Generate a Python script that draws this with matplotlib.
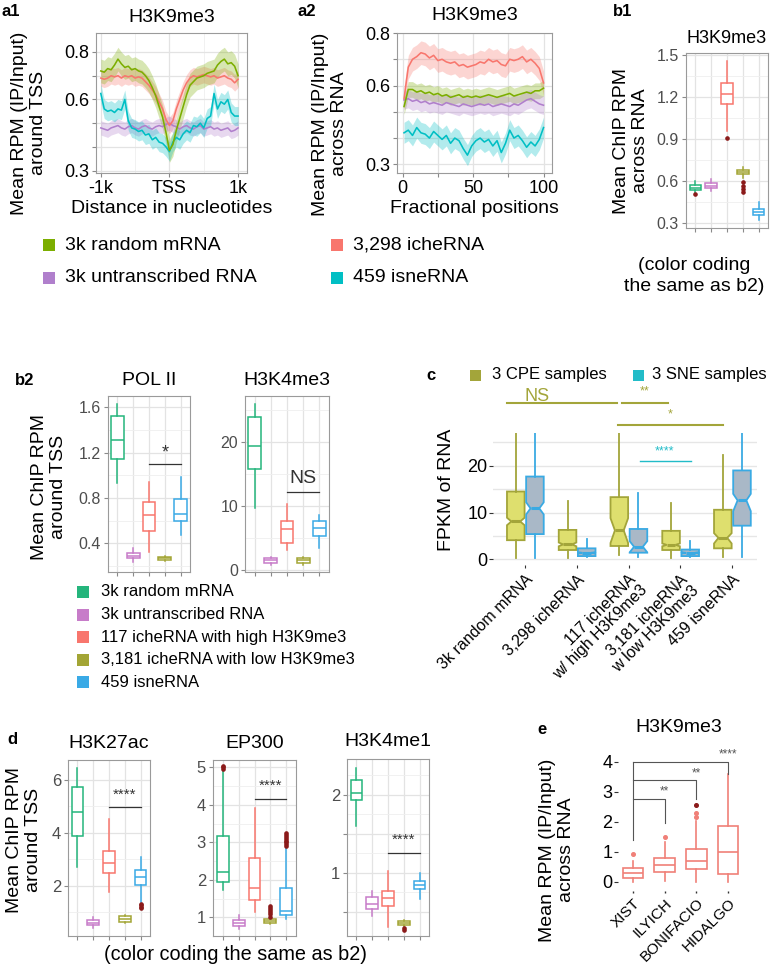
import matplotlib
matplotlib.use("Agg")
import matplotlib.pyplot as plt
from matplotlib.patches import Rectangle

plt.rcParams['font.family'] = ['Liberation Sans', 'DejaVu Sans']

W, H = 772, 965

#---------------------------------------------------------------------------------
# a1 : H3K9me3 around TSS
a1_pos = [-1000, -950, -900, -850, -800, -750, -700, -650, -600, -550, -500, -450, -400, -350,
          -300, -250, -200, -150, -100, -50, 0, 50, 100, 150, 200, 250, 300, 350, 400, 450,
          500, 550, 600, 650, 700, 750, 800, 850, 900, 950, 1000]
a1_green = [0.72, 0.715, 0.73, 0.725, 0.745, 0.77, 0.75, 0.735, 0.74, 0.725, 0.73, 0.72, 0.715, 0.70,
            0.68, 0.65, 0.615, 0.57, 0.525, 0.46, 0.385, 0.41, 0.47, 0.52, 0.57, 0.62, 0.66, 0.675,
            0.69, 0.695, 0.70, 0.71, 0.715, 0.72, 0.745, 0.76, 0.77, 0.75, 0.755, 0.74, 0.70]
a1_red = [0.69, 0.685, 0.69, 0.70, 0.695, 0.70, 0.69, 0.70, 0.695, 0.70, 0.69, 0.695, 0.69, 0.675,
          0.66, 0.64, 0.62, 0.59, 0.56, 0.515, 0.49, 0.51, 0.56, 0.60, 0.64, 0.67, 0.69, 0.70,
          0.695, 0.70, 0.705, 0.70, 0.695, 0.70, 0.69, 0.695, 0.70, 0.69, 0.685, 0.67, 0.685]
a1_cyan = [0.625, 0.56, 0.55, 0.555, 0.545, 0.56, 0.555, 0.60, 0.51, 0.48, 0.475, 0.465, 0.47, 0.45,
           0.455, 0.43, 0.44, 0.42, 0.415, 0.40, 0.38, 0.42, 0.44, 0.43, 0.455, 0.47, 0.46, 0.49,
           0.485, 0.50, 0.48, 0.52, 0.53, 0.625, 0.56, 0.59, 0.58, 0.60, 0.545, 0.53, 0.53]
a1_purple = [0.48, 0.475, 0.47, 0.48, 0.485, 0.49, 0.48, 0.475, 0.485, 0.49, 0.48, 0.475, 0.485, 0.49,
             0.48, 0.475, 0.485, 0.49, 0.485, 0.495, 0.50, 0.49, 0.485, 0.475, 0.485, 0.49, 0.48,
             0.475, 0.485, 0.49, 0.475, 0.48, 0.485, 0.475, 0.48, 0.47, 0.475, 0.48, 0.465, 0.47, 0.48]
a1_band = [0.05, 0.035, 0.04, 0.03]   # green, red, cyan, purple

# a2 : H3K9me3 across RNA
a2_pos = [1, 4, 7, 10, 13, 16, 19, 22, 25, 28, 31, 34, 37, 40, 43, 46, 49, 52, 55, 58, 61, 64,
          67, 70, 73, 76, 79, 82, 85, 88, 91, 94, 97, 100]
a2_red = [0.55, 0.67, 0.70, 0.71, 0.725, 0.72, 0.705, 0.715, 0.695, 0.70, 0.69, 0.685, 0.69, 0.675,
          0.68, 0.67, 0.675, 0.68, 0.69, 0.685, 0.70, 0.69, 0.695, 0.68, 0.675, 0.70, 0.695, 0.70,
          0.71, 0.69, 0.70, 0.685, 0.665, 0.61]
a2_green = [0.52, 0.585, 0.585, 0.575, 0.58, 0.57, 0.575, 0.565, 0.57, 0.56, 0.565, 0.555, 0.56, 0.565,
            0.555, 0.56, 0.555, 0.56, 0.555, 0.56, 0.565, 0.56, 0.555, 0.56, 0.565, 0.57, 0.56, 0.565,
            0.57, 0.575, 0.57, 0.58, 0.58, 0.59]
a2_purple = [0.545, 0.55, 0.54, 0.545, 0.535, 0.54, 0.53, 0.535, 0.53, 0.525, 0.535, 0.53, 0.525, 0.52,
             0.53, 0.525, 0.52, 0.525, 0.53, 0.525, 0.53, 0.52, 0.525, 0.53, 0.525, 0.52, 0.53, 0.525,
             0.535, 0.545, 0.55, 0.54, 0.53, 0.525]
a2_cyan = [0.42, 0.43, 0.41, 0.44, 0.42, 0.415, 0.40, 0.425, 0.41, 0.395, 0.41, 0.38, 0.40, 0.39,
           0.36, 0.335, 0.37, 0.39, 0.40, 0.385, 0.395, 0.37, 0.39, 0.345, 0.38, 0.43, 0.40, 0.41,
           0.39, 0.365, 0.385, 0.37, 0.395, 0.44]
a2_band = [0.03, 0.045, 0.04, 0.035]  # green, red, cyan, purple

a_labels = ["3k random mRNA", "3k untranscribed RNA", "3,298 icheRNA", "459 isneRNA"]

#---------------------------------------------------------------------------------
# b1 / b2 / d : 5 groups
b_labels = ["3k random mRNA", "3k untranscribed RNA", "117 icheRNA with high H3K9me3",
            "3,181 icheRNA with low H3K9me3", "459 isneRNA"]

b1_med = [0.55, 0.565, 1.225, 0.665, 0.38]
b1_q1 = [0.536, 0.548, 1.15, 0.65, 0.355]
b1_q3 = [0.57, 0.588, 1.30, 0.68, 0.40]
b1_lo = [0.51, 0.53, 0.96, 0.62, 0.32]
b1_hi = [0.60, 0.615, 1.46, 0.70, 0.45]
b1_out = [[0.505], [], [0.905], [0.52, 0.54, 0.565, 0.59], []]

pol_med = [1.31, 0.29, 0.65, 0.27, 0.66]
pol_q1 = [1.14, 0.265, 0.506, 0.255, 0.60]
pol_q3 = [1.52, 0.31, 0.76, 0.28, 0.79]
pol_lo = [0.93, 0.23, 0.32, 0.24, 0.47]
pol_hi = [1.63, 0.36, 0.94, 0.29, 0.98]

k4_med = [19.4, 1.5, 6.45, 1.5, 6.5]
k4_q1 = [15.8, 1.1, 4.2, 1.1, 5.3]
k4_q3 = [23.9, 1.9, 7.7, 1.9, 7.7]
k4_lo = [9.7, 0.8, 3.2, 0.8, 3.4]
k4_hi = [25.9, 2.1, 10.3, 2.1, 8.6]

k27_med = [4.77, 0.6, 2.88, 0.76, 2.35]
k27_q1 = [3.89, 0.53, 2.49, 0.65, 2.04]
k27_q3 = [5.75, 0.72, 3.33, 0.87, 2.6]
k27_lo = [2.72, 0.40, 1.78, 0.60, 1.41]
k27_hi = [6.44, 0.84, 4.52, 0.92, 3.1]
k27_out = [[], [], [], [], [1.17, 1.22, 1.27, 1.32]]

ep_med = [2.22, 0.84, 1.77, 0.9, 1.17]
ep_q1 = [1.95, 0.76, 1.46, 0.85, 1.05]
ep_q3 = [3.16, 0.92, 2.58, 0.95, 1.79]
ep_lo = [1.73, 0.70, 1.14, 0.82, 0.96]
ep_hi = [4.9, 1.05, 3.92, 0.98, 2.84]
ep_out = [[4.95, 5.0, 5.05], [], [], [1.02, 1.08, 1.14, 1.2, 1.26, 1.3],
          [2.9, 2.95, 3.0, 3.05, 3.1, 3.15, 3.2, 3.25]]

k1_med = [2.02, 0.60, 0.68, 0.355, 0.84]
k1_q1 = [1.93, 0.53, 0.57, 0.33, 0.79]
k1_q3 = [2.19, 0.69, 0.77, 0.38, 0.89]
k1_lo = [1.60, 0.45, 0.31, 0.31, 0.66]
k1_hi = [2.34, 0.77, 1.03, 0.39, 1.00]
k1_out = [[], [], [], [0.27, 0.29], []]

#---------------------------------------------------------------------------------
# c : FPKM, CPE vs SNE
c_labels = ["3k random mRNA", "3,298 icheRNA", "117 icheRNA\nw/ high H3K9me3",
            "3,181 icheRNA\nw low H3K9me3", "459 isneRNA"]
cpe_med = [8.1, 3.2, 6.2, 3.1, 4.6]
cpe_q1 = [4.1, 2.0, 2.86, 2.0, 2.36]
cpe_q3 = [14.5, 6.3, 13.3, 6.1, 10.6]
cpe_lo = [0.3, 0.2, 0.9, 0.2, 0.5]
cpe_hi = [28.7, 12.5, 28.0, 12.1, 22.4]
cpe_cilo = [7.3, 2.8, 3.5, 2.8, 3.4]
cpe_cihi = [8.9, 3.6, 8.8, 3.4, 5.6]
sne_med = [10.9, 1.4, 2.7, 1.4, 12.6]
sne_q1 = [5.4, 0.7, 1.43, 0.7, 7.2]
sne_q3 = [17.7, 2.36, 6.5, 2.1, 19.0]
sne_lo = [0.3, 0.5, 0.55, 0.5, 0.55]
sne_hi = [28.6, 4.4, 14.1, 3.9, 28.6]
sne_cilo = [9.6, 1.25, 1.5, 1.25, 10.3]
sne_cihi = [12.2, 1.55, 3.9, 1.55, 14.0]

#---------------------------------------------------------------------------------
# e : H3K9me3 across RNA of four lncRNAs
e_labels = ["XIST", "ILYICH", "BONIFACIO", "HIDALGO"]
e_med = [0.31, 0.57, 0.71, 0.98]
e_q1 = [0.13, 0.34, 0.42, 0.27]
e_q3 = [0.45, 0.79, 1.09, 1.87]
e_lo = [0.0, 0.03, 0.0, 0.0]
e_hi = [0.68, 1.34, 2.01, 3.59]
e_out = [[0.93], [1.48], [2.15, 2.3], []]
e_out_dark = [[], [], [2.57], []]

#---------------------------------------------------------------------------------
a_cols = ['#7CAE00', '#F8766D', '#00BFC4', '#B07FCC']   # green, red, cyan, purple
b_cols = ['#25B57C', '#C77CC9', '#F8766D', '#A3A535', '#3AAAE6']
dark_red = '#8B1A1A'
olive = '#A3A53A'
cyan = '#22BCC8'

fig = plt.figure(figsize=(W / 100, H / 100), dpi=100)


def rect(x0, y0, x1, y1):
    return [x0 / W, 1 - y1 / H, (x1 - x0) / W, (y1 - y0) / H]


def ftext(x, y, s, **kw):
    kw.setdefault('ha', 'center')
    kw.setdefault('va', 'center')
    fig.text(x / W, 1 - y / H, s, **kw)


def square(x, y, c, size=11):
    fig.add_artist(Rectangle((x / W, 1 - (y + size / 2) / H), size / W, size / H,
                             transform=fig.transFigure, facecolor=c, edgecolor='none'))


def bw(ax, labelcolor='#4d4d4d', size=11.5):
    ax.set_facecolor('white')
    for s in ax.spines.values():
        s.set_color('#9a9a9a')
        s.set_linewidth(0.8)
    ax.grid(True, which='major', color='#e3e3e3', lw=0.9)
    ax.grid(True, which='minor', color='#efefef', lw=0.6)
    ax.set_axisbelow(True)
    ax.tick_params(which='major', length=3, width=0.8, color='#8a8a8a',
                   labelcolor=labelcolor, labelsize=size, pad=2)
    ax.tick_params(which='minor', length=0)


def boxes(ax, med, q1, q3, lo, hi, out, cols, width=0.75, lw=1.1, fl=dark_red):
    for i in range(len(med)):
        st = dict(med=med[i], q1=q1[i], q3=q3[i], whislo=lo[i], whishi=hi[i], fliers=out[i])
        ax.bxp([st], positions=[i + 1], widths=width, showcaps=False, patch_artist=True,
               manage_ticks=False,
               boxprops=dict(facecolor='white', edgecolor=cols[i], linewidth=lw),
               medianprops=dict(color=cols[i], linewidth=lw),
               whiskerprops=dict(color=cols[i], linewidth=lw),
               flierprops=dict(marker='o', markersize=2.3, markerfacecolor=fl,
                               markeredgecolor=fl))


def sig(ax, x0, x1, y, txt, ty, color='#333333', size=13, lw=0.9, tx=None):
    ax.plot([x0, x1], [y, y], color=color, lw=lw, clip_on=False)
    if tx is None:
        tx = (x0 + x1) / 2
    ax.text(tx, ty, txt, color=color, fontsize=size, ha='center', va='center', clip_on=False)


def five_box_axes(ax, ylim, yticks, ylabels, minors, size=11.5):
    bw(ax, size=size)
    ax.set_xlim(0.4, 5.6)
    ax.set_ylim(*ylim)
    ax.set_xticks([1, 2, 3, 4, 5])
    ax.set_xticklabels([])
    ax.set_yticks(yticks)
    ax.set_yticklabels(ylabels)
    ax.set_yticks(minors, minor=True)


#---------------------------------------------------------------------------------
# a1
ax = fig.add_axes(rect(96, 33, 247, 173))
bw(ax, labelcolor='black', size=13)
for vals, col, b in zip([a1_red, a1_green, a1_purple, a1_cyan],
                        [a_cols[1], a_cols[0], a_cols[3], a_cols[2]],
                        [a1_band[1], a1_band[0], a1_band[3], a1_band[2]]):
    ax.fill_between(a1_pos, [v - b for v in vals], [v + b for v in vals], color=col,
                    alpha=0.3, lw=0)
for vals, col in zip([a1_purple, a1_cyan, a1_red, a1_green],
                     [a_cols[3], a_cols[2], a_cols[1], a_cols[0]]):
    ax.plot(a1_pos, vals, color=col, lw=1.15)
ax.set_xlim(-1070, 1130)
ax.set_ylim(0.29, 0.88)
ax.set_xticks([-1000, 0, 1000])
ax.set_xticklabels(['-1k', 'TSS', '1k'])
ax.set_xticks([-500, 500], minor=True)
ax.set_yticks([0.3, 0.4, 0.5, 0.6, 0.7, 0.8])
ax.set_yticklabels(['0.3', '', '', '0.6', '', '0.8'])
ax.set_title("H3K9me3", fontsize=14, pad=8)
ax.set_xlabel("Distance in nucleotides", fontsize=14, labelpad=2)
ftext(29, 123, "Mean RPM (IP/Input)\naround TSS", rotation=90, fontsize=14, linespacing=1.1)
ftext(2, 12, "a1", fontsize=12, fontweight='bold', ha='left')

# a2
ax = fig.add_axes(rect(397, 33, 552, 173))
bw(ax, labelcolor='black', size=13)
for vals, col, b in zip([a2_red, a2_green, a2_purple, a2_cyan],
                        [a_cols[1], a_cols[0], a_cols[3], a_cols[2]],
                        [a2_band[1], a2_band[0], a2_band[3], a2_band[2]]):
    ax.fill_between(a2_pos, [v - b for v in vals], [v + b for v in vals], color=col,
                    alpha=0.3, lw=0)
for vals, col in zip([a2_purple, a2_cyan, a2_green, a2_red],
                     [a_cols[3], a_cols[2], a_cols[0], a_cols[1]]):
    ax.plot(a2_pos, vals, color=col, lw=1.15)
ax.set_xlim(-4, 106)
ax.set_ylim(0.267, 0.80)
ax.set_xticks([0, 25, 50, 75, 100])
ax.set_xticklabels(['0', '', '50', '', '100'])
ax.set_yticks([0.3, 0.4, 0.5, 0.6, 0.7, 0.8])
ax.set_yticklabels(['0.3', '', '', '0.6', '', '0.8'])
ax.set_title("H3K9me3", fontsize=14, pad=9)
ax.set_xlabel("Fractional positions", fontsize=14, labelpad=2)
ftext(330, 124, "Mean RPM (IP/Input)\nacross RNA", rotation=90, fontsize=14, linespacing=1.1)
ftext(297, 12, "a2", fontsize=12, fontweight='bold', ha='left')

# legend a
for (x, y), lab, col in zip([(43, 245), (43, 278), (331, 245), (331, 278)], a_labels,
                            [a_cols[0], a_cols[3], a_cols[1], a_cols[2]]):
    square(x, y, col, 12)
    ftext(x + 22, y, lab, fontsize=14, ha='left')

# b1
ax = fig.add_axes(rect(686, 53, 768, 228))
five_box_axes(ax, (0.264, 1.515), [0.3, 0.6, 0.9, 1.2, 1.5],
              ['0.3', '0.6', '0.9', '1.2', '1.5'], [0.45, 0.75, 1.05, 1.35])
boxes(ax, b1_med, b1_q1, b1_q3, b1_lo, b1_hi, b1_out, b_cols)
ax.set_title("H3K9me3", fontsize=13, pad=7)
ftext(631, 141, "Mean ChIP RPM\nacross RNA", rotation=90, fontsize=14, linespacing=1.1)
ftext(613, 12, "b1", fontsize=12, fontweight='bold', ha='left')
ftext(694, 276, "(color coding\nthe same as b2)", fontsize=14, linespacing=1.25)

# b2 POL II
ax = fig.add_axes(rect(108, 396, 190, 572))
five_box_axes(ax, (0.145, 1.70), [0.4, 0.8, 1.2, 1.6], ['0.4', '0.8', '1.2', '1.6'],
              [0.2, 0.6, 1.0, 1.4])
boxes(ax, pol_med, pol_q1, pol_q3, pol_lo, pol_hi, [[]] * 5, b_cols, width=0.8)
sig(ax, 3, 5, 1.10, "*", 1.20, size=13)
ax.set_title("POL II", fontsize=14, pad=8)

# b2 H3K4me3
ax = fig.add_axes(rect(245, 396, 329, 572))
five_box_axes(ax, (-0.3, 27.2), [0, 10, 20], ['0', '10', '20'], [5, 15, 25])
boxes(ax, k4_med, k4_q1, k4_q3, k4_lo, k4_hi, [[]] * 5, b_cols, width=0.8)
sig(ax, 3, 5, 12.2, "NS", 14.3, size=14)
ax.set_title("H3K4me3", fontsize=14, pad=8)

ftext(49, 487, "Mean ChIP RPM\naround TSS", rotation=90, fontsize=14, linespacing=1.1)
ftext(15, 380, "b2", fontsize=12, fontweight='bold', ha='left')
for i, (lab, col) in enumerate(zip(b_labels, b_cols)):
    y = 592 + i * 22.6
    square(77, y, col, 12)
    ftext(101, y, lab, fontsize=12, ha='left')

# c
ax = fig.add_axes(rect(493, 433, 757, 565))
for s in ax.spines.values():
    s.set_visible(False)
ax.grid(True, axis='y', which='both', color='#e6e6e6', lw=1.0)
ax.set_axisbelow(True)
for i in range(5):
    st = dict(med=cpe_med[i], q1=cpe_q1[i], q3=cpe_q3[i], whislo=cpe_lo[i], whishi=cpe_hi[i],
              cilo=cpe_cilo[i], cihi=cpe_cihi[i], fliers=[])
    ax.bxp([st], positions=[i + 1 - 0.18], widths=0.34, shownotches=True, showcaps=False,
           patch_artist=True, manage_ticks=False,
           boxprops=dict(facecolor='#DEDF6E', edgecolor=olive, linewidth=1.3),
           medianprops=dict(color=olive, linewidth=2.2),
           whiskerprops=dict(color=olive, linewidth=1.3))
    st = dict(med=sne_med[i], q1=sne_q1[i], q3=sne_q3[i], whislo=sne_lo[i], whishi=sne_hi[i],
              cilo=sne_cilo[i], cihi=sne_cihi[i], fliers=[])
    ax.bxp([st], positions=[i + 1 + 0.19], widths=0.34, shownotches=True, showcaps=False,
           patch_artist=True, manage_ticks=False,
           boxprops=dict(facecolor='#A9B8C7', edgecolor='#3AAAE3', linewidth=1.3),
           medianprops=dict(color='#3AAAE3', linewidth=2.2),
           whiskerprops=dict(color='#3AAAE3', linewidth=1.3))
ax.set_xlim(0.38, 5.48)
ax.set_ylim(-1.2, 27)
ax.set_yticks([0, 10, 20])
ax.set_yticklabels(['0', '10', '20'])
ax.set_yticks([5, 15, 25], minor=True)
ax.set_xticks([1, 2, 3, 4, 5])
ax.set_xticklabels(c_labels, rotation=45, ha='right', va='top', rotation_mode='anchor',
                   multialignment='right', linespacing=1.0)
ax.tick_params(axis='y', which='major', length=3, width=0.8, color='#333333',
               labelsize=13, labelcolor='black', pad=1)
ax.tick_params(axis='x', which='major', length=2, width=0.8, color='#333333',
               labelsize=11.5, labelcolor='black', pad=3)
ax.tick_params(which='minor', length=0)
sig(ax, 0.65, 2.78, 33.4, "NS", 34.8, color=olive, size=13, lw=1.5, tx=1.23)
sig(ax, 2.87, 3.76, 33.4, "**", 35.8, color=olive, size=9, lw=1.5, tx=3.3)
sig(ax, 2.80, 4.83, 28.7, "*", 31.0, color=olive, size=9, lw=1.5, tx=3.8)
sig(ax, 3.22, 4.21, 21.0, "****", 23.0, color=cyan, size=9, lw=1.0, tx=3.7)
ftext(447, 490, "FPKM of RNA", rotation=90, fontsize=14)
ftext(426, 375, "c", fontsize=12, fontweight='bold', ha='left')
square(470, 375, olive, 11)
ftext(492, 375, "3 CPE samples", fontsize=12, ha='left')
square(633, 375, cyan, 11)
ftext(652, 375, "3 SNE samples", fontsize=12, ha='left')

# d
ax = fig.add_axes(rect(68, 760, 150, 936))
five_box_axes(ax, (0.11, 6.75), [2, 4, 6], ['2', '4', '6'], [1, 3, 5], size=12)
boxes(ax, k27_med, k27_q1, k27_q3, k27_lo, k27_hi, k27_out, b_cols)
sig(ax, 3, 5, 4.98, "****", 5.42, size=11)
ax.set_title("H3K27ac", fontsize=14, pad=9)

ax = fig.add_axes(rect(213, 760, 296, 936))
five_box_axes(ax, (0.5, 5.2), [1, 2, 3, 4, 5], ['1', '2', '3', '4', '5'],
              [1.5, 2.5, 3.5, 4.5], size=12)
boxes(ax, ep_med, ep_q1, ep_q3, ep_lo, ep_hi, ep_out, b_cols)
sig(ax, 3, 5, 4.16, "****", 4.5, size=11)
ax.set_title("EP300", fontsize=14, pad=9)

ax = fig.add_axes(rect(347, 759, 429, 936))
five_box_axes(ax, (0.19, 2.46), [0.5, 1, 1.5, 2], ['', '1', '', '2'],
              [0.75, 1.25, 1.75, 2.25], size=12)
boxes(ax, k1_med, k1_q1, k1_q3, k1_lo, k1_hi, k1_out, b_cols)
sig(ax, 3, 5, 1.26, "****", 1.42, size=11)
ax.set_title("H3K4me1", fontsize=14, pad=9)

ftext(24, 840, "Mean ChIP RPM\naround TSS", rotation=90, fontsize=14, linespacing=1.1)
ftext(7, 740, "d", fontsize=12, fontweight='bold', ha='left')
ftext(236, 954, "(color coding the same as b2)", fontsize=14.3)

# e
ax = fig.add_axes(rect(618, 757, 740, 891))
for s in ax.spines.values():
    s.set_visible(False)
e_col = '#F08078'
for i in range(4):
    st = dict(med=e_med[i], q1=e_q1[i], q3=e_q3[i], whislo=e_lo[i], whishi=e_hi[i],
              fliers=e_out[i])
    ax.bxp([st], positions=[i + 1], widths=0.65, showcaps=False, patch_artist=True,
           manage_ticks=False,
           boxprops=dict(facecolor='white', edgecolor=e_col, linewidth=1.2),
           medianprops=dict(color=e_col, linewidth=1.2),
           whiskerprops=dict(color=e_col, linewidth=1.2),
           flierprops=dict(marker='o', markersize=2.6, markerfacecolor=e_col,
                           markeredgecolor=e_col))
    if e_out_dark[i]:
        ax.plot([i + 1] * len(e_out_dark[i]), e_out_dark[i], 'o', ms=2.6, color=dark_red)
brk = '#555555'
ax.plot([1, 1], [1.4, 3.97], color=brk, lw=0.8, clip_on=False)
for x2, yb, ye, st in [(2, 2.76, 1.97, "**"), (3, 3.37, 2.75, "**"), (4, 3.97, 3.6, "****")]:
    ax.plot([1, x2, x2], [yb, yb, ye], color=brk, lw=0.8, clip_on=False)
    ax.text(x2, yb + 0.05, st, color=brk, fontsize=8.5, ha='center', va='bottom',
            clip_on=False)
ax.set_xlim(0.53, 4.38)
ax.set_ylim(-0.3, 4.15)
ax.set_yticks([0, 1, 2, 3, 4])
ax.set_yticklabels(['0', '1', '2', '3', '4'])
ax.set_xticks([1, 2, 3, 4])
ax.set_xticklabels(e_labels, rotation=45, ha='right', va='top', rotation_mode='anchor')
ax.tick_params(axis='y', length=3, width=0.8, color='#333333', labelsize=13,
               labelcolor='black', pad=1)
ax.tick_params(axis='x', length=1.5, width=1.0, color='#333333', labelsize=11,
               labelcolor='black', pad=2)
ax.set_title("H3K9me3", fontsize=14, pad=18)
ftext(557, 850, "Mean RPM (IP/Input)\nacross RNA", rotation=90, fontsize=14, linespacing=1.1)
ftext(537, 730, "e", fontsize=12, fontweight='bold', ha='left')

fig.savefig("out.png", dpi=100)
